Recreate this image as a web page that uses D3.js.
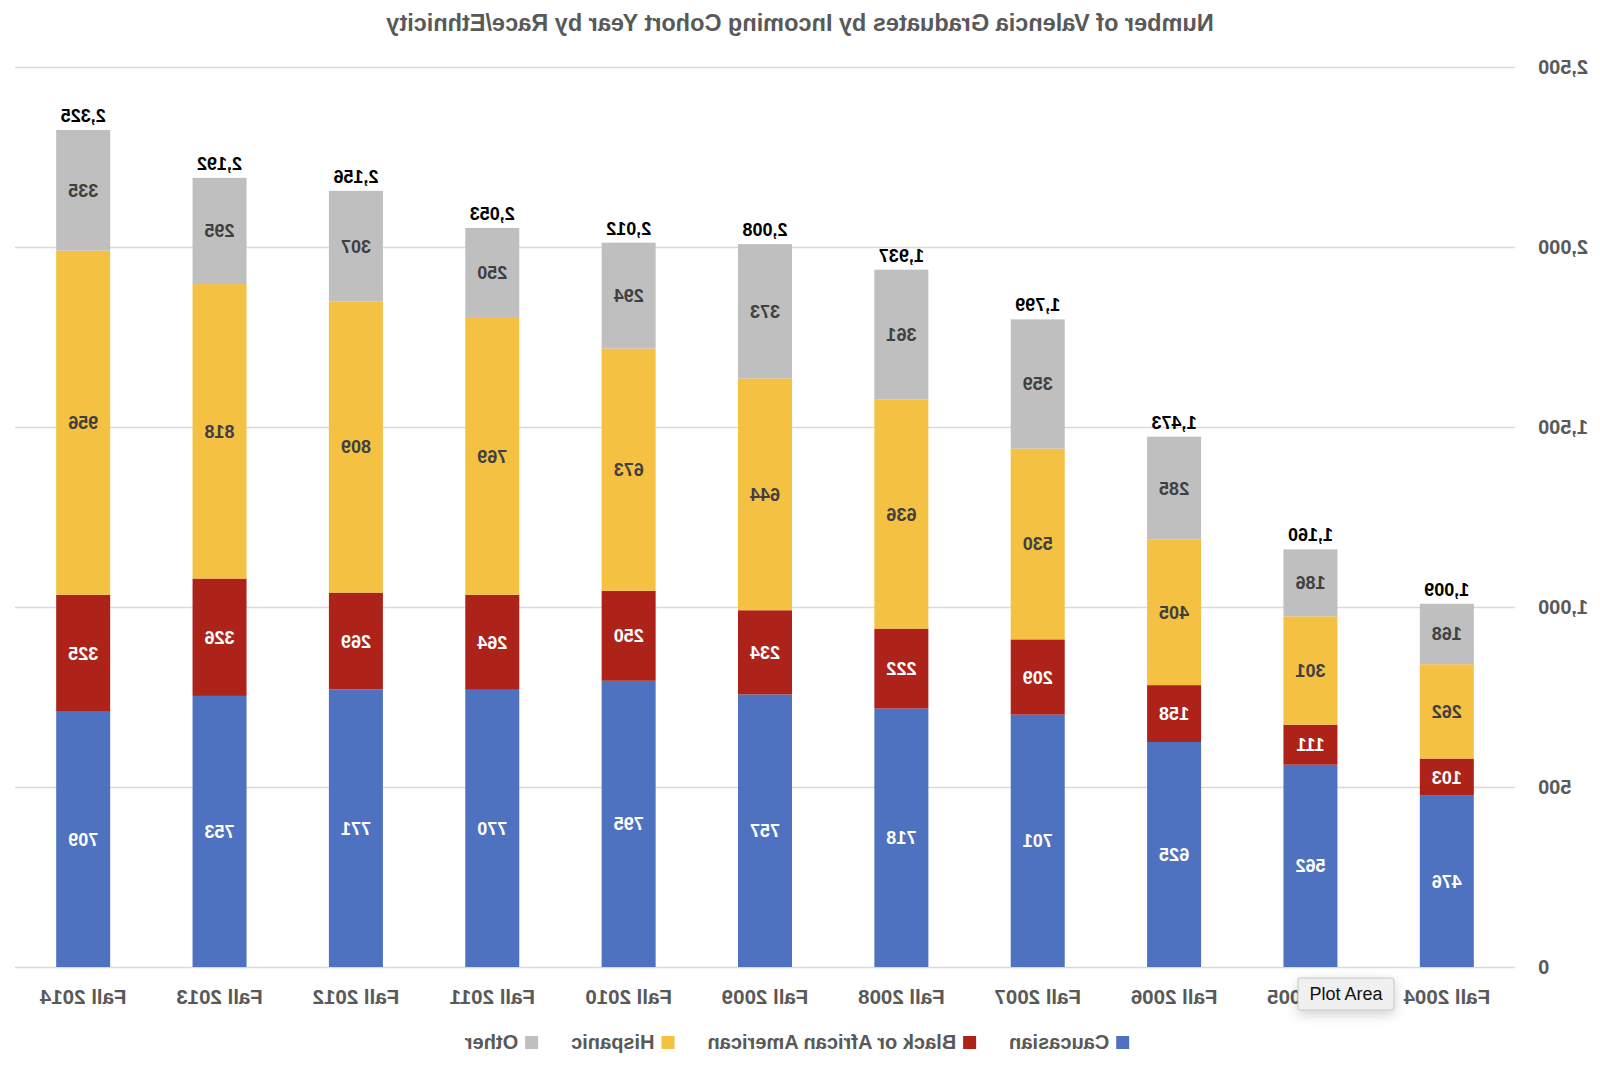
<!DOCTYPE html>
<meta charset="utf-8">
<style>
body { margin: 0; background: #fff; }
svg { font-family: "Liberation Sans", Arial, sans-serif; }
.grid line { stroke: #d9d9d9; stroke-width: 1.5; }
.grid text { fill: #595959; font-size: 20px; font-weight: bold; }
.xlab { fill: #595959; font-size: 20.5px; font-weight: bold; }
.seg-label { font-size: 18px; font-weight: bold; }
.total { fill: #000; font-size: 18px; font-weight: bold; }
.legend text { fill: #595959; font-size: 20px; font-weight: bold; }
</style>
<body>
<script src="https://d3js.org/d3.v7.min.js"></script>
<script>

// data
var categories = ["Fall 2004", "Fall 2005", "Fall 2006", "Fall 2007", "Fall 2008", "Fall 2009",
                  "Fall 2010", "Fall 2011", "Fall 2012", "Fall 2013", "Fall 2014"];
var caucasian = [476, 562, 625, 701, 718, 757, 795, 770, 771, 753, 709];
var black     = [103, 111, 158, 209, 222, 234, 250, 264, 269, 326, 325];
var hispanic  = [262, 301, 405, 530, 636, 644, 673, 769, 809, 818, 956];
var other     = [168, 186, 285, 359, 361, 373, 294, 250, 307, 295, 335];
var seriesNames = ["Caucasian", "Black or African American", "Hispanic", "Other"];
var yTicks = [0, 500, 1000, 1500, 2000, 2500];

var colors = ["#4e72bf", "#ad2219", "#f4c143", "#bfbfbf"];
var labelColors = ["#fff", "#fff", "#404040", "#404040"];

var width = 1600, height = 1066;
var plot = {left: 85, right: 1585, top: 67, bottom: 967};

// build rows for the stack
var keys = ["c", "b", "h", "o"];
var rows = categories.map(function(cat, i) {
  return {cat: cat, c: caucasian[i], b: black[i], h: hispanic[i], o: other[i]};
});
var stacked = d3.stack().keys(keys)(rows);

var x = d3.scaleBand()
    .domain(categories)
    .range([plot.left, plot.right])
    .paddingInner(0.604)
    .paddingOuter(0.302);

var y = d3.scaleLinear()
    .domain([0, 2500])
    .range([plot.bottom, plot.top]);

var svg = d3.select("body").append("svg")
    .attr("width", width)
    .attr("height", height);

// the reference is a mirror image, so draw the chart normally and flip it
var g = svg.append("g")
    .attr("transform", "translate(" + width + ",0) scale(-1,1)");

// title
g.append("text")
    .attr("x", 800)
    .attr("y", 31)
    .attr("text-anchor", "middle")
    .style("font-size", "23.5px")
    .style("font-weight", "bold")
    .style("fill", "#595959")
    .text("Number of Valencia Graduates by Incoming Cohort Year by Race/Ethnicity");

// gridlines + y labels
g.append("g")
    .attr("class", "grid")
    .attr("transform", "translate(" + plot.left + ",0)")
    .call(d3.axisLeft(y)
      .tickValues(yTicks)
      .tickSize(-(plot.right - plot.left))
      .tickPadding(23)
      .tickFormat(d3.format(",")))
    .call(function(a) { a.select(".domain").remove(); });

// bars
var layer = g.selectAll(".layer")
    .data(stacked)
  .enter().append("g")
    .attr("class", "layer")
    .attr("fill", function(d, i) { return colors[i]; });

layer.selectAll("rect")
    .data(function(d) { return d; })
  .enter().append("rect")
    .attr("x", function(d) { return x(d.data.cat); })
    .attr("y", function(d) { return y(d[1]); })
    .attr("width", x.bandwidth())
    .attr("height", function(d) { return y(d[0]) - y(d[1]); });

// segment labels
layer.each(function(s, i) {
  d3.select(this).selectAll("text")
      .data(s)
    .enter().append("text")
      .attr("class", "seg-label")
      .attr("x", function(d) { return x(d.data.cat) + x.bandwidth() / 2; })
      .attr("y", function(d) { return (y(d[0]) + y(d[1])) / 2; })
      .attr("dy", "0.36em")
      .attr("text-anchor", "middle")
      .style("fill", labelColors[i])
      .text(function(d) { return d3.format(",")(d[1] - d[0]); });
});

// totals on top
var topLayer = stacked[stacked.length - 1];
g.selectAll(".total")
    .data(topLayer)
  .enter().append("text")
    .attr("class", "total")
    .attr("x", function(d) { return x(d.data.cat) + x.bandwidth() / 2; })
    .attr("y", function(d) { return y(d[1]) - 8; })
    .attr("text-anchor", "middle")
    .text(function(d) { return d3.format(",")(d[1]); });

// category labels
g.selectAll(".xlab")
    .data(categories)
  .enter().append("text")
    .attr("class", "xlab")
    .attr("x", function(d) { return x(d) + x.bandwidth() / 2; })
    .attr("y", 1004)
    .attr("text-anchor", "middle")
    .text(function(d) { return d; });

// legend
var legend = g.append("g").attr("class", "legend");
var lx = 0;
seriesNames.forEach(function(name, i) {
  var item = legend.append("g").attr("transform", "translate(" + lx + ",0)");
  item.append("rect")
      .attr("x", 0).attr("y", 1036)
      .attr("width", 13).attr("height", 13)
      .attr("fill", colors[i]);
  var t = item.append("text")
      .attr("x", 20).attr("y", 1049)
      .text(name);
  lx += 20 + t.node().getComputedTextLength() + 33;
});
lx -= 33;
legend.attr("transform", "translate(" + (803 - lx / 2) + ",0)");

// the "Plot Area" tooltip that sits on top of the picture (not mirrored)
var defs = svg.append("defs");
var f = defs.append("filter").attr("id", "shadow")
    .attr("x", "-30%").attr("y", "-60%").attr("width", "160%").attr("height", "260%");
f.append("feDropShadow")
    .attr("dx", 0).attr("dy", 4).attr("stdDeviation", 6)
    .attr("flood-color", "#000").attr("flood-opacity", 0.18);

var tip = svg.append("g").attr("transform", "translate(1298,978)");
tip.append("rect")
    .attr("width", 96).attr("height", 32).attr("rx", 2)
    .attr("fill", "#f0f0f0")
    .attr("stroke", "#c4c4c4")
    .attr("filter", "url(#shadow)");
tip.append("text")
    .attr("x", 48).attr("y", 22)
    .attr("text-anchor", "middle")
    .style("font-size", "18px")
    .style("fill", "#111")
    .text("Plot Area");

</script>
</body>
